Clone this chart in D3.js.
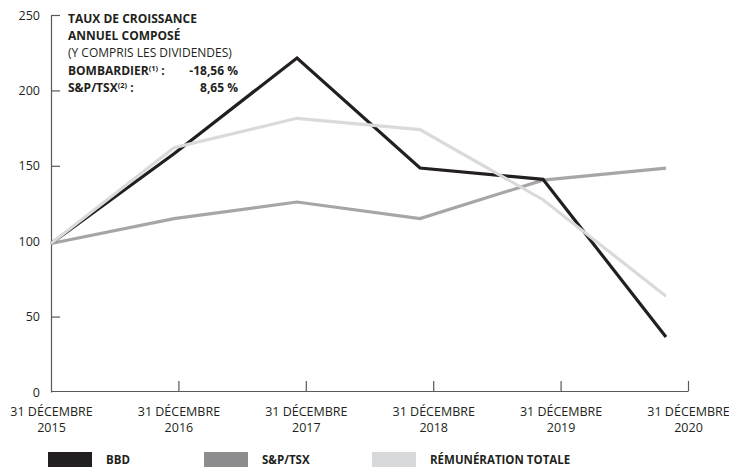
<!DOCTYPE html>
<html>
<head>
<meta charset="utf-8">
<script src="https://cdn.jsdelivr.net/npm/d3@7"></script>
<style>
    body { margin: 0; background: #fff; }
    svg { display: block; font-family: "Open Sans", sans-serif; }
    .axis path, .axis line { stroke: #58595b; stroke-width: 1.2; }
    .axis text { fill: #231f20; font-size: 12.5px; font-family: "Open Sans", sans-serif; }
</style>
</head>
<body>
<svg width="729" height="467"></svg>
<script>
'use strict';

// chart values
const years = ["2015", "2016", "2017", "2018", "2019", "2020"];
const tickPrefix = "31 DÉCEMBRE";
const bbd = [98.5, 158, 221.5, 148.5, 141, 36.5];
const spTsx = [98.5, 115, 126, 115, 140.5, 148.5];
const remTotale = [98.5, 162, 181.5, 174, 127.5, 63.5];
const yTicks = [0, 50, 100, 150, 200, 250];

const seriesNames = ["BBD", "S&P/TSX", "RÉMUNÉRATION TOTALE"];
const seriesValues = [bbd, spTsx, remTotale];
const lineColors = ["#231f20", "#a6a6a8", "#dadada"];
const swatchColors = ["#231f20", "#8d8d8f", "#d8d9da"];
const drawOrder = [1, 0, 2];

const titleLines = ["TAUX DE CROISSANCE", "ANNUEL COMPOSÉ"];
const subTitle = "(Y COMPRIS LES DIVIDENDES)";
const cagrNames = ["BOMBARDIER", "S&P/TSX"];
const cagrNotes = ["(1)", "(2)"];
const cagrValues = ["-18,56 %", "8,65 %"];

const run = () => {
    const svg = d3.select("svg");

    const y = d3.scaleLinear().domain([0, 250]).range([392, 15]);
    // ticks and data points are not spaced the same in the original
    const xTick = d3.scalePoint().domain(years).range([51, 688]);
    const xData = d3.scalePoint().domain(years).range([51, 666]);

    // y axis, ticks pointing inward
    svg.append("g")
        .attr("class", "axis axis--y")
        .attr("transform", "translate(51,0)")
        .call(d3.axisLeft(y).tickValues(yTicks).tickSizeInner(-9).tickSizeOuter(0).tickPadding(11))
        .call(g => g.selectAll(".tick").filter(d => d === 0).select("line").remove());

    // x axis with two-line labels
    const xg = svg.append("g")
        .attr("class", "axis axis--x")
        .attr("transform", "translate(0,391)")
        .call(d3.axisBottom(xTick).tickSizeInner(-10).tickSizeOuter(0).tickPadding(0));

    xg.selectAll(".tick").filter(d => d === years[0]).select("line").remove();
    xg.selectAll(".tick text").each(function (d) {
        const t = d3.select(this).text(null).attr("y", 0).attr("dy", null);
        t.append("tspan").attr("x", 0).attr("y", 25).text(tickPrefix);
        t.append("tspan").attr("x", 0).attr("y", 41).text(d);
    });

    // lines
    const line = d3.line()
        .x((d, i) => xData(years[i]))
        .y(d => y(d));

    svg.append("g").selectAll("path")
        .data(drawOrder)
        .join("path")
        .attr("d", i => line(seriesValues[i]))
        .attr("fill", "none")
        .attr("stroke", i => lineColors[i])
        .attr("stroke-width", 3.2)
        .attr("stroke-linejoin", "miter");

    // growth rate box
    const tg = svg.append("g")
        .attr("font-size", "12px")
        .attr("fill", "#231f20");

    titleLines.forEach((s, i) => {
        tg.append("text")
            .attr("x", 68).attr("y", 23 + i * 16.5)
            .attr("font-weight", 700)
            .text(s);
    });
    tg.append("text")
        .attr("x", 68).attr("y", 57)
        .text(subTitle);

    cagrNames.forEach((s, i) => {
        const yy = 75 + i * 17;
        const t = tg.append("text")
            .attr("x", 68).attr("y", yy)
            .attr("font-weight", 700);
        t.append("tspan").text(s);
        t.append("tspan").attr("font-size", "7.5px").attr("dy", -4.5).text(cagrNotes[i]);
        t.append("tspan").attr("dy", 4.5).text(" :");
        tg.append("text")
            .attr("x", 238).attr("y", yy)
            .attr("text-anchor", "end")
            .attr("font-weight", 700)
            .text(cagrValues[i]);
    });

    // legend
    const legendX = [48, 204, 372];
    const lg = svg.append("g").selectAll("g")
        .data(seriesNames)
        .join("g")
        .attr("transform", (d, i) => `translate(${legendX[i]},452)`);

    lg.append("rect")
        .attr("width", 44)
        .attr("height", 16)
        .attr("fill", (d, i) => swatchColors[i]);

    lg.append("text")
        .attr("x", 58)
        .attr("y", 12)
        .attr("font-size", "11.5px")
        .attr("font-weight", 700)
        .attr("fill", "#231f20")
        .text(d => d);
};

run();
</script>
</body>
</html>
